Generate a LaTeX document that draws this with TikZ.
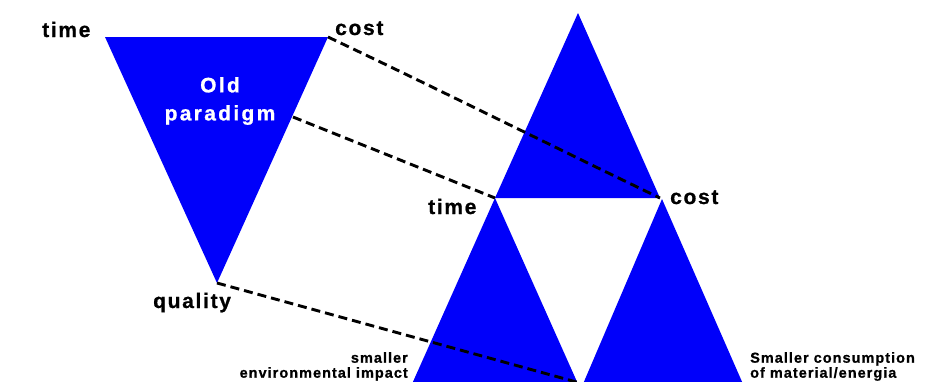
\documentclass[tikz,border=0pt]{standalone}
\usepackage{fontspec}
\setmainfont{Liberation Sans}
\newfontfamily\lblfont[LetterSpace=8,FakeBold=0.8]{Liberation Sans}
\newfontfamily\oldfont[LetterSpace=11,FakeBold=0.8]{Liberation Sans}
\newfontfamily\smallfont[LetterSpace=7,FakeBold=0.8]{Liberation Sans}
\definecolor{triblue}{RGB}{0,0,250}
\begin{document}
\begin{tikzpicture}[x=1pt,y=-1pt,
  tri/.style={fill=triblue,draw=none},
  link/.style={draw=black,line width=2.9pt,dash pattern=on 9pt off 5pt},
  biglbl/.style={inner sep=0pt,font=\lblfont\bfseries\fontsize{21}{24}\selectfont},
  whitelbl/.style={inner sep=0pt,text=white,align=center,font=\oldfont\bfseries\fontsize{21}{28}\selectfont},
  smalllbl/.style={inner sep=0pt,font=\smallfont\bfseries\fontsize{14.5}{15}\selectfont}]
\useasboundingbox[fill=white] (0,0) rectangle (938,381);
% vertices
\coordinate (oldtime) at (105,37);
\coordinate (oldcost) at (328,37);
\coordinate (oldqual) at (217,283);
\coordinate (oldmid) at (293,117);
\coordinate (apex) at (578,13);
\coordinate (newtime) at (495,198);
\coordinate (newcost) at (660,198);
\coordinate (llbl) at (412,384);
\coordinate (llbr) at (578,384);
\coordinate (lrapex) at (662,199);
\coordinate (lrbl) at (583,384);
\coordinate (lrbr) at (743,384);
\coordinate (qend) at (580,383);
% triangles
\fill[tri] (oldtime) -- (oldcost) -- (oldqual) -- cycle;
\fill[tri] (apex) -- (newcost) -- (newtime) -- cycle;
\fill[tri] (newtime) -- (llbr) -- (llbl) -- cycle;
\fill[tri] (lrapex) -- (lrbr) -- (lrbl) -- cycle;
% connectors
\draw[link] (oldcost) .. controls (440,90) and (560,150) .. (newcost);
\draw[link] (oldmid) -- (newtime);
\draw[link] (oldqual) -- (qend);
% labels
\node[biglbl,anchor=base west] (t1) at (42,37) {time};
\node[biglbl,anchor=base west] (c1) at (335,35) {cost};
\node[whitelbl,anchor=center] (op) at (220,101) {Old\\paradigm};
\node[biglbl,anchor=base west] (t2) at (428,214) {time};
\node[biglbl,anchor=base west] (c2) at (670,204) {cost};
\node[biglbl,anchor=base west] (q) at (153,308) {quality};
\node[smalllbl,anchor=north east,align=right] (env) at (408,352) {smaller\\environmental impact};
\node[smalllbl,anchor=north west,align=left] (mat) at (750,352) {Smaller consumption\\of material/energia};
\end{tikzpicture}
\end{document}
